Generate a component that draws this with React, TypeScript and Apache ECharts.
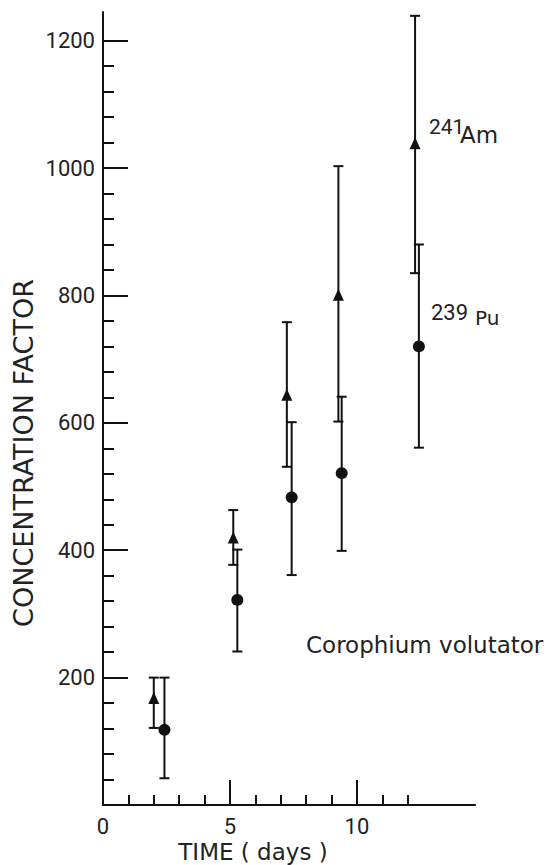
import React, { useEffect, useRef } from "react";
import * as echarts from "echarts";

// 241Am (triangles)
const amDays = [2.0, 5.13, 7.24, 9.27, 12.29];
const amValues = [168, 420, 644, 801, 1039];
const amLow = [121, 377, 531, 602, 835];
const amHigh = [200, 463, 758, 1003, 1239];

// 239Pu (circles)
const puDays = [2.42, 5.29, 7.43, 9.4, 12.44];
const puValues = [118, 322, 483, 521, 720];
const puLow = [42, 241, 361, 399, 561];
const puHigh = [200, 401, 601, 641, 880];

const yMajorTicks = [200, 400, 600, 800, 1000, 1200];
const yMinorTicks = [
  40, 80, 120, 160, 240, 280, 320, 360, 440, 480, 520, 560, 640, 680, 720, 760,
  840, 880, 920, 960, 1040, 1080, 1120, 1160,
];
const xTickLabels = [0, 5, 10];
const xMajorTicks = [5, 10];
const xMinorTicks = [1, 2, 3, 4, 6, 7, 8, 9, 11, 12];

const INK = "#111111";
const NUM_FONT = "Roboto";
const TXT_FONT = '"DejaVu Sans"';

export default function App() {
  const ref = useRef<HTMLDivElement>(null);

  useEffect(() => {
    if (!ref.current) return;
    const chart = echarts.init(ref.current, null, { renderer: "svg" });

    const errData = (d: number[], lo: number[], hi: number[]) =>
      d.map((x, i) => [x, lo[i], hi[i]]);

    const renderErr = (params: any, api: any) => {
      const x = api.value(0);
      const lo = api.value(1);
      const hi = api.value(2);
      const pLo = api.coord([x, lo]);
      const pHi = api.coord([x, hi]);
      const hw = 5;
      const style = { stroke: INK, lineWidth: 2, fill: null };
      return {
        type: "group",
        children: [
          { type: "line", shape: { x1: pLo[0], y1: pLo[1], x2: pHi[0], y2: pHi[1] }, style },
          { type: "line", shape: { x1: pLo[0] - hw, y1: pLo[1], x2: pLo[0] + hw, y2: pLo[1] }, style },
          { type: "line", shape: { x1: pHi[0] - hw, y1: pHi[1], x2: pHi[0] + hw, y2: pHi[1] }, style },
        ],
      };
    };

    const baseAxisX = {
      type: "value",
      min: 0,
      max: 14.65,
      splitLine: { show: false },
    };
    const baseAxisY = {
      type: "value",
      min: 0,
      max: 1245,
      splitLine: { show: false },
    };

    chart.setOption({
      animation: false,
      backgroundColor: "#ffffff",
      grid: { left: 103, right: 74, top: 12, bottom: 60, containLabel: false },
      xAxis: [
        {
          ...baseAxisX,
          axisLine: { show: true, lineStyle: { color: INK, width: 2 } },
          axisTick: {
            show: true,
            inside: true,
            length: 25,
            customValues: xMajorTicks,
            lineStyle: { color: INK, width: 2 },
          },
          axisLabel: {
            show: true,
            customValues: xTickLabels,
            formatter: (v: number) => String(v),
            margin: 10,
            color: "#222",
            fontFamily: NUM_FONT,
            fontSize: 22,
          },
        },
        {
          ...baseAxisX,
          position: "bottom",
          axisLine: { show: false },
          axisTick: {
            show: true,
            inside: true,
            length: 10,
            customValues: xMinorTicks,
            lineStyle: { color: INK, width: 2 },
          },
          axisLabel: { show: false },
        },
      ],
      yAxis: [
        {
          ...baseAxisY,
          axisLine: { show: true, lineStyle: { color: INK, width: 2 } },
          axisTick: {
            show: true,
            inside: true,
            length: 25,
            customValues: yMajorTicks,
            lineStyle: { color: INK, width: 2 },
          },
          axisLabel: {
            show: true,
            customValues: yMajorTicks,
            formatter: (v: number) => String(v),
            margin: 8,
            color: "#222",
            fontFamily: NUM_FONT,
            fontSize: 22,
          },
        },
        {
          ...baseAxisY,
          position: "left",
          axisLine: { show: false },
          axisTick: {
            show: true,
            inside: true,
            length: 11,
            customValues: yMinorTicks,
            lineStyle: { color: INK, width: 2 },
          },
          axisLabel: { show: false },
        },
      ],
      series: [
        {
          type: "custom",
          name: "Am err",
          xAxisIndex: 0,
          yAxisIndex: 0,
          renderItem: renderErr,
          encode: { x: 0, y: [1, 2] },
          data: errData(amDays, amLow, amHigh),
          clip: false,
          z: 2,
        },
        {
          type: "custom",
          name: "Pu err",
          xAxisIndex: 0,
          yAxisIndex: 0,
          renderItem: renderErr,
          encode: { x: 0, y: [1, 2] },
          data: errData(puDays, puLow, puHigh),
          clip: false,
          z: 2,
        },
        {
          type: "scatter",
          name: "241Am",
          symbol: "triangle",
          symbolSize: [11, 12],
          itemStyle: { color: INK, opacity: 1 },
          data: amDays.map((d, i) => [d, amValues[i]]),
          z: 3,
        },
        {
          type: "scatter",
          name: "239Pu",
          symbol: "circle",
          symbolSize: 12,
          itemStyle: { color: INK, opacity: 1 },
          data: puDays.map((d, i) => [d, puValues[i]]),
          z: 3,
        },
      ],
      graphic: [
        {
          type: "text",
          x: 23,
          y: 453,
          rotation: Math.PI / 2,
          style: {
            text: "CONCENTRATION FACTOR",
            font: `27px ${TXT_FONT}`,
            textAlign: "center",
            textVerticalAlign: "middle",
            fill: "#222",
          },
        },
        {
          type: "text",
          x: 253,
          y: 852,
          style: {
            text: "TIME ( days )",
            font: `23px ${TXT_FONT}`,
            textAlign: "center",
            textVerticalAlign: "middle",
            fill: "#222",
          },
        },
        {
          type: "text",
          x: 306,
          y: 645,
          style: {
            text: "Corophium volutator",
            font: `23px ${TXT_FONT}`,
            textAlign: "left",
            textVerticalAlign: "middle",
            fill: "#222",
          },
        },
        {
          type: "text",
          x: 429,
          y: 127,
          style: {
            text: "241",
            font: `21px ${NUM_FONT}`,
            textAlign: "left",
            textVerticalAlign: "middle",
            fill: "#222",
          },
        },
        {
          type: "text",
          x: 460,
          y: 135,
          style: {
            text: "Am",
            font: `23px ${TXT_FONT}`,
            textAlign: "left",
            textVerticalAlign: "middle",
            fill: "#222",
          },
        },
        {
          type: "text",
          x: 431,
          y: 312,
          style: {
            text: "239",
            font: `22px ${NUM_FONT}`,
            textAlign: "left",
            textVerticalAlign: "middle",
            fill: "#222",
          },
        },
        {
          type: "text",
          x: 475,
          y: 318,
          style: {
            text: "Pu",
            font: `20px ${TXT_FONT}`,
            textAlign: "left",
            textVerticalAlign: "middle",
            fill: "#222",
          },
        },
      ],
    });

    return () => chart.dispose();
  }, []);

  return (
    <div
      ref={ref}
      style={{ position: "fixed", left: 0, top: 0, width: 549, height: 865, background: "#fff" }}
    />
  );
}
